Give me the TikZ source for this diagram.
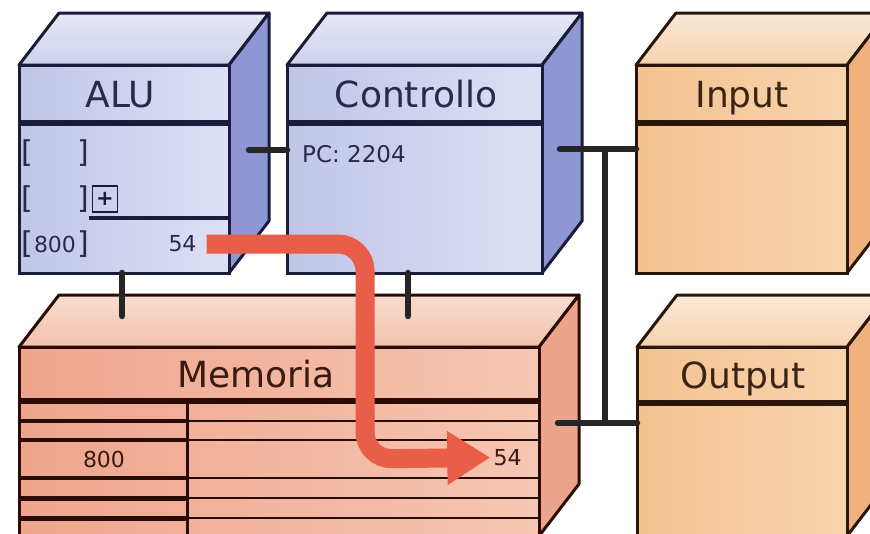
\documentclass[tikz,border=0pt]{standalone}
\usepackage{fontspec}
\setmainfont{DejaVu Sans}
\usetikzlibrary{arrows.meta,calc}
% blue scheme
\definecolor{bfrontL}{HTML}{C0C5E8}
\definecolor{bfrontR}{HTML}{DDE0F4}
\definecolor{btopB}{HTML}{E6E8F6}
\definecolor{btopF}{HTML}{CDD1EC}
\definecolor{bside}{HTML}{8E96D3}
\definecolor{bline}{HTML}{1B1B3A}
\definecolor{btext}{HTML}{2A2A48}
% orange scheme
\definecolor{ofrontL}{HTML}{F4C290}
\definecolor{ofrontR}{HTML}{F8D4AE}
\definecolor{otopB}{HTML}{FAE8D6}
\definecolor{otopF}{HTML}{F6D2AE}
\definecolor{oside}{HTML}{F0B27C}
\definecolor{oline}{HTML}{2A1608}
\definecolor{otext}{HTML}{3A2412}
% memory scheme
\definecolor{mfrontL}{HTML}{EFA58D}
\definecolor{mfrontR}{HTML}{F6C6B2}
\definecolor{mtopB}{HTML}{F8DCCE}
\definecolor{mtopF}{HTML}{F2C2AC}
\definecolor{mside}{HTML}{EDA48C}
\definecolor{mline}{HTML}{2A0C04}
\definecolor{mtext}{HTML}{3A1A10}
\definecolor{conncol}{HTML}{262626}
\definecolor{redarrow}{HTML}{E95E48}
\tikzset{
  title/.style={font=\fontsize{36}{36}\selectfont, anchor=base, inner sep=0pt},
  small/.style={font=\fontsize{22}{22}\selectfont, inner sep=1pt},
  brk/.style={font=\fontsize{30}{30}\selectfont, inner sep=0pt, text=btext},
  conn/.style={draw=conncol, line width=6.5pt, line cap=round},
  flow/.style={draw=redarrow, line width=19pt, rounded corners=27pt,
    -{Triangle[width=51pt,length=43pt]}},
}
% name, x, y, w, h, scheme, divider offset
\newcommand\mkcube[7]{%
  \draw[line width=3pt, draw=#6line, line join=round, top color=#6topB, bottom color=#6topF]
    (#2,#3) -- ++(40,-52) -- ++(#4,0) -- ++(-40,52) -- cycle;
  \draw[line width=3pt, draw=#6line, line join=round, fill=#6side]
    (#2+#4,#3) -- ++(40,-52) -- ++(0,#5) -- ++(-40,52) -- cycle;
  \node[draw=#6line, line width=3pt, left color=#6frontL, right color=#6frontR,
    minimum width=#4pt, minimum height=#5pt, anchor=north west, inner sep=0pt,
    outer sep=0pt] (#1) at (#2,#3) {};
  \draw[line width=6pt, draw=#6line] ([yshift=-#7pt]#1.north west) -- ([yshift=-#7pt]#1.north east);
}
\begin{document}
\begin{tikzpicture}[x=1pt,y=-1pt]
\useasboundingbox (0,0) rectangle (870,533);
\clip (0,0) rectangle (870,533);
\fill[white] (0,0) rectangle (870,533);

% top row
\mkcube{alu}{19}{65}{210}{208}{b}{58}
\mkcube{ctl}{287}{65}{255}{208}{b}{58}
\mkcube{inp}{636}{65}{211}{208}{o}{58}
% bottom row
\mkcube{mem}{19}{347}{520}{189}{m}{54}
\mkcube{out}{637}{347}{210}{189}{o}{56}

% titles
\node[title, text=btext] (tAlu) at (120,107) {ALU};
\node[title, text=btext] (tCtl) at (416,107) {Controllo};
\node[title, text=otext] (tInp) at (742,107) {Input};
\node[title, text=mtext] (tMem) at (256,387) {Memoria};
\node[title, text=otext] (tOut) at (743,388) {Output};

% ALU registers
\node[brk] (b1l) at (27,153) {[};
\node[brk] (b1r) at (83,153) {]};
\node[brk] (b2l) at (27,199) {[};
\node[brk] (b2r) at (83,199) {]};
\node[brk] (b3l) at (27,244) {[};
\node[brk] (b3r) at (83,244) {]};
\node[small, text=btext, inner sep=0pt] (r800) at (55,244) {800};
\node[draw=bline, line width=1.8pt, minimum width=25pt, minimum height=26pt, inner sep=0pt,
  font=\bfseries\fontsize{21}{21}\selectfont, text=bline] (plus) at (105,199) {+};
\draw[line width=4pt, draw=bline] (89,218) -- (alu.east |- 0,218);
\node[small, text=btext] (alu54) at (182.5,244) {54};

% Controllo text
\node[small, text=btext, anchor=west, font=\fontsize{23}{23}\selectfont] (pc) at (301,154) {PC: 2204};

% memory table
\foreach \yy/\lw in {421/3.3, 440/3.3, 478/3.3, 498/5, 518/5}
  \draw[line width=\lw pt, draw=mline] (mem.west |- 0,\yy) -- (187,\yy);
\foreach \yy in {421, 440, 478, 498, 518}
  \draw[line width=2pt, draw=mline] (187,\yy) -- (mem.east |- 0,\yy);
\draw[line width=3pt, draw=mline] (187,401) -- (187,545);
\node[small, text=mtext] (m800) at (104,459.5) {800};
\node[small, text=mtext] (mem54) at (507.5,457.5) {54};

% connectors
\coordinate (aluR) at (249,150);
\coordinate (ctlR) at (560,149);
\coordinate (memR) at (558,423);
\coordinate (busT) at (605,149);
\coordinate (busB) at (605,423);
\coordinate (memA) at (122,316);
\coordinate (memC) at (408,316);
\draw[conn] (aluR) -- (aluR -| ctl.west);
\draw[conn] (ctlR) -- (ctlR -| inp.west);
\draw[conn] (memR) -- (memR -| out.west);
\draw[conn, line cap=butt] (busT) -- (busB);
\draw[conn] (alu.south -| memA) -- (memA);
\draw[conn] (ctl.south -| memC) -- (memC);

% data flow arrow
\coordinate (bend) at (365,459);
\draw[flow] ([xshift=9pt]alu54.east) -| (bend) -- ([xshift=-2pt]mem54.west);
\end{tikzpicture}
\end{document}
